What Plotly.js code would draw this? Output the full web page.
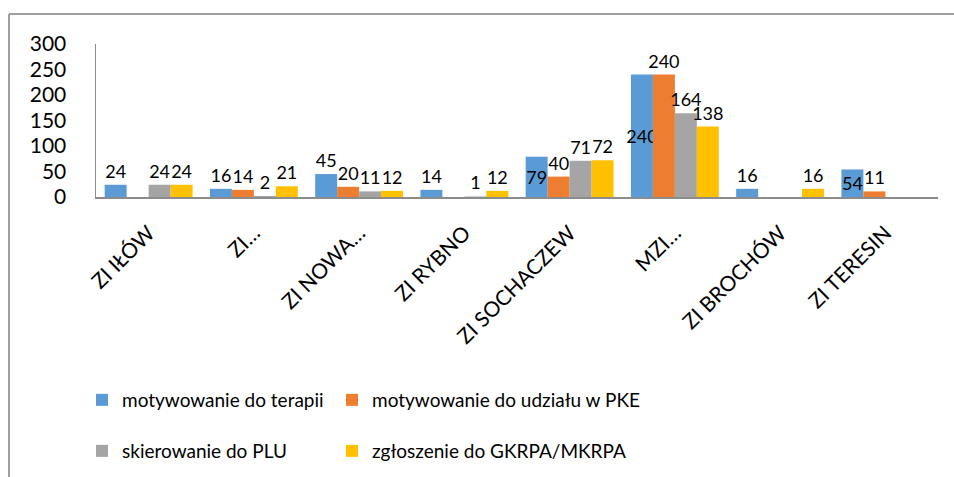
<!DOCTYPE html>
<html>
<head>
<meta charset="utf-8">
<script src="https://cdn.plot.ly/plotly-3.0.1.min.js"></script>
<style>html,body{margin:0;padding:0;background:#fff;}#chart{width:954px;height:477px;}</style>
</head>
<body>
<div id="chart"></div>
<script>
const categories = ["ZI IŁÓW", "ZI…", "ZI NOWA…", "ZI RYBNO", "ZI SOCHACZEW", "MZI…", "ZI BROCHÓW", "ZI TERESIN"];
const seriesNames = ["motywowanie do terapii", "motywowanie do udziału w PKE", "skierowanie do PLU", "zgłoszenie do GKRPA/MKRPA"];
const motywowanieTerapia = [24, 16, 45, 14, 79, 240, 16, 54];
const motywowaniePKE = [null, 14, 20, null, 40, 240, null, 11];
const skierowaniePLU = [24, 2, 11, 1, 71, 164, null, null];
const zgloszenieGKRPA = [24, 21, 12, 12, 72, 138, 16, null];
const yTicks = [0, 50, 100, 150, 200, 250, 300];

const colors = ["#5B9BD5", "#ED7D31", "#A5A5A5", "#FFC000"];
const FONT = "Lato, 'Open Sans', sans-serif";

const W = 954, H = 477, ML = 96, MR = 16, MT = 44, MB = 280;
const pw = W - ML - MR, ph = H - MT - MB;
const px = x => (x - ML) / pw;
const py = y => (H - MB - y) / ph;

const allSeries = [motywowanieTerapia, motywowaniePKE, skierowaniePLU, zgloszenieGKRPA];
const blueTextPos = ["outside", "outside", "outside", "outside", "inside", "inside", "outside", "inside"];
const legendNames = ["legend", "legend2", "legend3", "legend4"];

const traces = allSeries.map((vals, i) => ({
  type: "bar",
  name: seriesNames[i],
  x: categories,
  y: vals,
  marker: {color: colors[i]},
  text: vals.map(v => v === null ? "" : String(v)),
  textposition: i === 0 ? blueTextPos : "outside",
  textangle: 0,
  insidetextanchor: "middle",
  constraintext: "none",
  cliponaxis: false,
  textfont: {family: FONT, size: 18, color: "#000"},
  insidetextfont: {family: FONT, size: 18, color: "#000"},
  outsidetextfont: {family: FONT, size: 18, color: "#000"},
  hoverinfo: "x+y+name",
  legend: legendNames[i]
}));

function legendAt(xPix, yPix) {
  return {
    orientation: "h",
    xref: "container", yref: "container",
    x: xPix / W, xanchor: "left",
    y: 1 - yPix / H, yanchor: "middle",
    font: {family: FONT, size: 19, color: "#000"},
    bgcolor: "rgba(0,0,0,0)",
    itemwidth: 30
  };
}

const layout = {
  width: W, height: H,
  margin: {l: ML, r: MR, t: MT, b: MB, pad: 0},
  paper_bgcolor: "#fff", plot_bgcolor: "#fff",
  font: {family: FONT, color: "#000"},
  barmode: "group", bargap: 0.165, bargroupgap: 0,
  showlegend: true,
  legend: legendAt(82, 400),
  legend2: legendAt(332, 400),
  legend3: legendAt(82, 451),
  legend4: legendAt(332, 451),
  xaxis: {
    type: "category",
    tickangle: -45,
    showline: true, linecolor: "#8c8c8c", linewidth: 1.5,
    showgrid: false, ticks: "", ticklabelstandoff: 14,
    tickfont: {family: FONT, size: 21, color: "#000"},
    fixedrange: true
  },
  yaxis: {
    range: [0, 300],
    tickvals: yTicks,
    ticktext: yTicks.map(String),
    showline: true, linecolor: "#8c8c8c", linewidth: 1.5,
    showgrid: false, zeroline: false, ticks: "",
    ticklabelstandoff: 24,
    tickfont: {family: FONT, size: 21, color: "#000"},
    fixedrange: true
  },
  shapes: [
    {type: "line", xref: "paper", yref: "paper", x0: px(9), x1: px(954), y0: py(14), y1: py(14), line: {color: "#a0a0a0", width: 2}},
    {type: "line", xref: "paper", yref: "paper", x0: px(9), x1: px(9), y0: py(14), y1: py(477), line: {color: "#a0a0a0", width: 2}}
  ]
};

Plotly.newPlot("chart", traces, layout, {displayModeBar: false, staticPlot: true});
</script>
</body>
</html>
